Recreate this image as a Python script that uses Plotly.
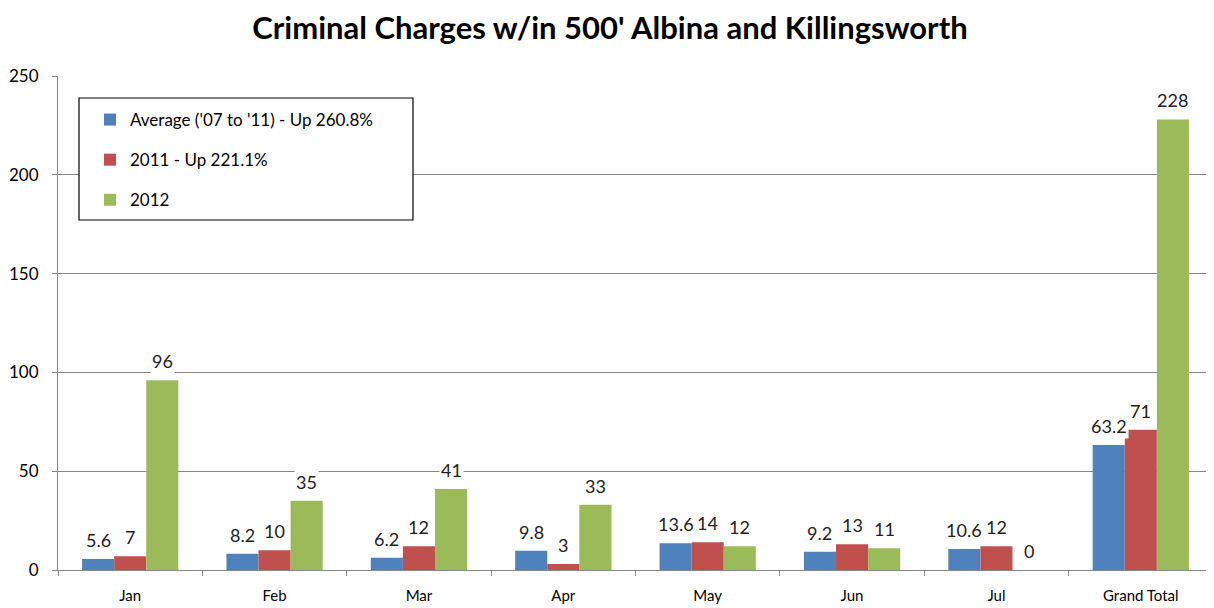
import plotly.graph_objects as go

categories = ["Jan", "Feb", "Mar", "Apr", "May", "Jun", "Jul", "Grand Total"]
avg_values = [5.6, 8.2, 6.2, 9.8, 13.6, 9.2, 10.6, 63.2]
y2011_values = [7, 10, 12, 3, 14, 13, 12, 71]
y2012_values = [96, 35, 41, 33, 12, 11, 0, 228]
series_names = ["Average ('07 to '11) - Up 260.8%", "2011 - Up 221.1%", "2012"]
colors = ["#4F81BD", "#C0504D", "#9BBB59"]
y_ticks = [0, 50, 100, 150, 200, 250]

FONT = "Lato, 'Open Sans', sans-serif"
OFF = 8  # page body margin offset
W, H = 1214 - OFF, 608 - OFF
# plot area in page pixels: x 58..1213, y 76..570
ml, mr, mt, mb = 58 - OFF, W - (1213 - OFF), 76 - OFF, H - (570 - OFF)
PW, PH = W - ml - mr, H - mt - mb

fig = go.Figure()
all_series = [avg_values, y2011_values, y2012_values]
for i, (name, vals, col) in enumerate(zip(series_names, all_series, colors)):
    fig.add_trace(go.Bar(
        x=categories, y=vals, name=name, marker=dict(color=col, line=dict(width=0)),
        legendgroup=f"g{i}",
    ))

cat_w = PW / len(categories)
bar_w = cat_w * (1 - 1/3) / 3
for i, vals in enumerate(all_series):
    for c, v in zip(categories, vals):
        fig.add_annotation(
            x=c, y=v, xref="x", yref="y", text=f"{v:g}", showarrow=False,
            yanchor="bottom", xshift=(i - 1) * bar_w, yshift=6,
            font=dict(family=FONT, size=18, color="#222222"),
            bgcolor="white", borderpad=1,
        )

def px_x(x):
    return (x - OFF - ml) / PW

def px_y(y):
    return (H - mb - (y - OFF)) / PH

fig.add_shape(type="rect", xref="paper", yref="paper",
              x0=px_x(79), x1=px_x(413), y0=px_y(220), y1=px_y(98),
              line=dict(color="black", width=1.2), fillcolor="white", layer="above")

fig.update_layout(
    width=W, height=H,
    margin=dict(l=ml, r=mr, t=mt, b=mb, autoexpand=False),
    paper_bgcolor="white", plot_bgcolor="white",
    title=dict(text="<b>Criminal Charges w/in 500' Albina and Killingsworth</b>",
               x=(610 - OFF) / W, xanchor="center", y=1 - (28 - OFF) / H, yanchor="middle",
               font=dict(family=FONT, size=31, color="black"), automargin=False),
    barmode="group", bargap=1/3, bargroupgap=0,
    showlegend=True,
    legend=dict(x=px_x(90), y=px_y(102), xanchor="left", yanchor="top",
                bgcolor="rgba(0,0,0,0)", borderwidth=0,
                font=dict(family=FONT, size=17, color="black"),
                tracegroupgap=15, itemwidth=30),
    xaxis=dict(type="category", showline=True, linecolor="#868686", linewidth=1,
               ticks="outside", tickson="boundaries", ticklen=5, tickcolor="#868686",
               tickfont=dict(family=FONT, size=15, color="black"), showgrid=False,
               ticklabelstandoff=12, automargin=False),
    yaxis=dict(range=[0, 250], tickvals=y_ticks, showline=True, linecolor="#868686",
               linewidth=1, ticks="outside", ticklen=5, tickcolor="#868686",
               gridcolor="#868686", gridwidth=1, zeroline=False, automargin=False,
               tickfont=dict(family=FONT, size=17, color="black"), ticklabelstandoff=10),
)

fig.write_html("out.html")
